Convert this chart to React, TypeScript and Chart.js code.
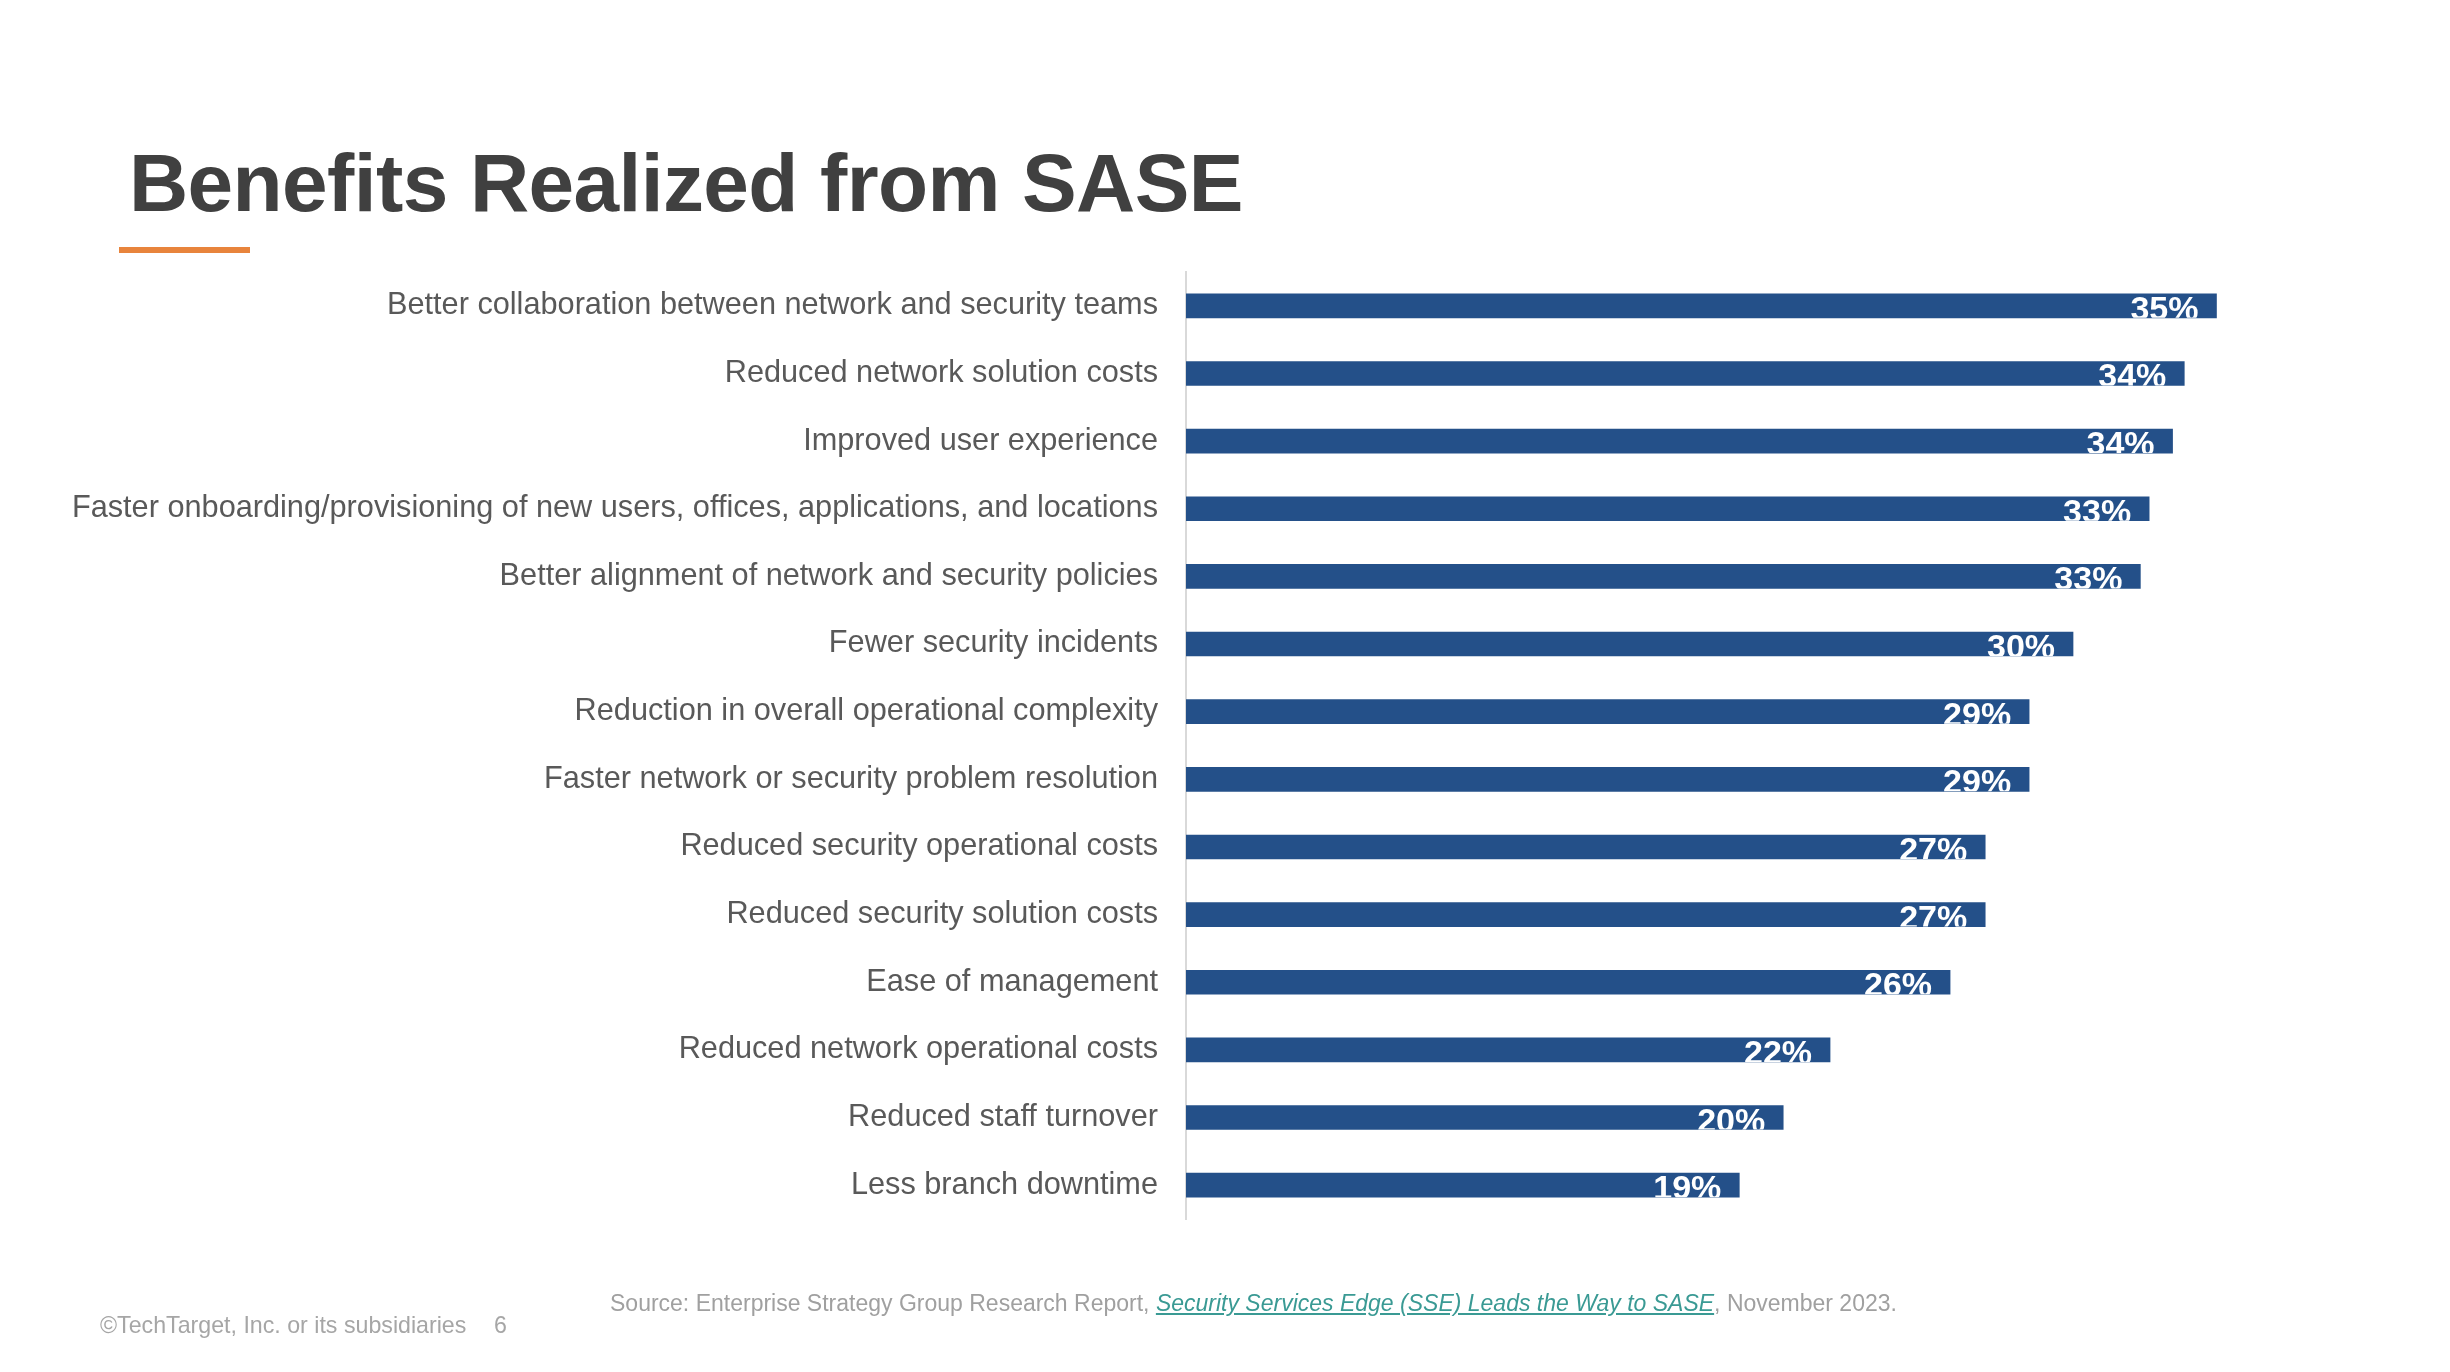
import React, { useEffect, useRef } from "react";
import { Chart, registerables } from "chart.js";

Chart.register(...registerables);

const titleText = "Benefits Realized from SASE";

const categories = [
  "Better collaboration between network and security teams",
  "Reduced network solution costs",
  "Improved user experience",
  "Faster onboarding/provisioning of new users, offices, applications, and locations",
  "Better alignment of network and security policies",
  "Fewer security incidents",
  "Reduction in overall operational complexity",
  "Faster network or security problem resolution",
  "Reduced security operational costs",
  "Reduced security solution costs",
  "Ease of management",
  "Reduced network operational costs",
  "Reduced staff turnover",
  "Less branch downtime",
];

const values = [35.2, 34.1, 33.7, 32.9, 32.6, 30.3, 28.8, 28.8, 27.3, 27.3, 26.1, 22.0, 20.4, 18.9];

const axisMin = 0;
const axisMax = 40;

const sourcePrefix = "Source: Enterprise Strategy Group Research Report, ";
const sourceLink = "Security Services Edge (SSE) Leads the Way to SASE";
const sourceSuffix = ", November 2023.";
const copyrightText = "\u00A9TechTarget, Inc. or its subsidiaries";
const pageNumber = "6";

const FONT = '"Liberation Sans", Arial, Helvetica, sans-serif';
const BAR_COLOR = "#245089";

const valueLabelPlugin = {
  id: "valueLabels",
  afterDatasetsDraw(chart: any) {
    const ctx = chart.ctx as CanvasRenderingContext2D;
    const meta = chart.getDatasetMeta(0);
    ctx.save();
    ctx.font = `bold 34px ${FONT}`;
    ctx.fillStyle = "#ffffff";
    ctx.textAlign = "right";
    ctx.textBaseline = "alphabetic";
    meta.data.forEach((el: any, i: number) => {
      const p = el.getProps(["x", "y", "base", "height"], true);
      ctx.save();
      ctx.beginPath();
      ctx.rect(p.base, p.y - p.height / 2, p.x - p.base, p.height);
      ctx.clip();
      ctx.fillText(Math.round(values[i]) + "%", p.x - 18, p.y + 14);
      ctx.restore();
    });
    ctx.restore();
  },
};

export default function App() {
  const canvasRef = useRef<HTMLCanvasElement | null>(null);

  useEffect(() => {
    const canvas = canvasRef.current;
    if (!canvas) return;
    const chart = new Chart(canvas, {
      type: "bar",
      data: {
        labels: categories,
        datasets: [
          {
            data: values,
            backgroundColor: BAR_COLOR,
            borderWidth: 0,
            barThickness: 24,
          },
        ],
      },
      options: {
        indexAxis: "y",
        responsive: false,
        maintainAspectRatio: false,
        devicePixelRatio: 1,
        animation: false,
        layout: { padding: { left: 0, top: 272, right: 93, bottom: 153 } },
        plugins: {
          legend: { display: false },
          tooltip: { enabled: false },
          title: { display: false },
        },
        scales: {
          x: { display: false, min: axisMin, max: axisMax },
          y: {
            grid: { display: false, drawTicks: false },
            border: { display: true, color: "#d9d9d9", width: 2 },
            ticks: {
              autoSkip: false,
              padding: 28,
              color: "#595959",
              font: { family: FONT, size: 30.7 },
            },
            afterFit(scale: any) {
              scale.width = 1186;
            },
          },
        },
      },
      plugins: [valueLabelPlugin],
    } as any);
    return () => chart.destroy();
  }, []);

  return (
    <div
      style={{
        position: "absolute",
        left: 0,
        top: 0,
        width: 2450,
        height: 1372,
        background: "#ffffff",
        overflow: "hidden",
        fontFamily: FONT,
      }}
    >
      <div
        style={{
          position: "absolute",
          left: 129,
          top: 142,
          fontSize: 82,
          lineHeight: 1,
          fontWeight: 700,
          letterSpacing: "-0.6px",
          color: "#404040",
          whiteSpace: "nowrap",
        }}
      >
        {titleText}
      </div>
      <div
        style={{
          position: "absolute",
          left: 119,
          top: 247,
          width: 131,
          height: 6,
          background: "#E8843C",
        }}
      />
      <canvas
        ref={canvasRef}
        width={2450}
        height={1372}
        style={{ position: "absolute", left: 0, top: 0, width: 2450, height: 1372 }}
      />
      <div
        style={{
          position: "absolute",
          left: 610,
          top: 1292,
          fontSize: 23,
          lineHeight: 1,
          color: "#a0a0a0",
          whiteSpace: "nowrap",
        }}
      >
        {sourcePrefix}
        <span style={{ color: "#3A9A94", fontStyle: "italic", textDecoration: "underline" }}>
          {sourceLink}
        </span>
        {sourceSuffix}
      </div>
      <div
        style={{
          position: "absolute",
          left: 100,
          top: 1314,
          fontSize: 23.2,
          lineHeight: 1,
          color: "#a6a6a6",
          whiteSpace: "nowrap",
        }}
      >
        {copyrightText}
      </div>
      <div
        style={{
          position: "absolute",
          left: 494,
          top: 1314,
          fontSize: 23.2,
          lineHeight: 1,
          color: "#a6a6a6",
        }}
      >
        {pageNumber}
      </div>
    </div>
  );
}
